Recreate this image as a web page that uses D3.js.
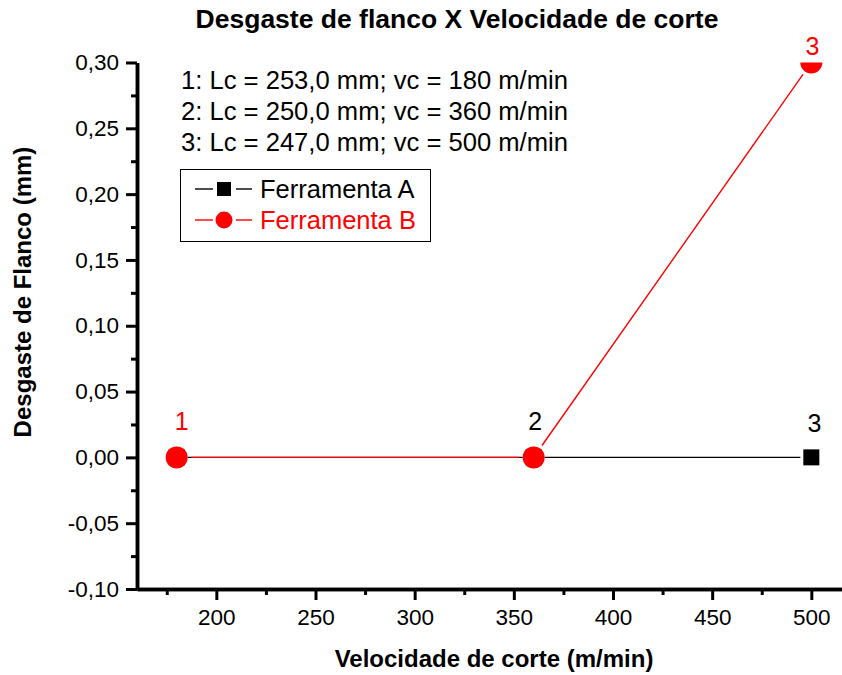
<!DOCTYPE html>
<html>
<head>
<meta charset="utf-8">
<script src="https://cdn.jsdelivr.net/npm/d3@7"></script>
<style>
  html, body { margin: 0; padding: 0; background: #fff; }
  svg { display: block; font-family: "Liberation Sans", Arial, sans-serif; }
</style>
</head>
<body>
<svg id="chart" width="842" height="675"></svg>
<script>
// Cutting speed (m/min) for each test point
const speeds = [180, 360, 500];
// Flank wear (mm) per tool
const wearA = [0.0, 0.0, 0.0];
const wearB = [0.0, 0.0, 0.30];
// Point labels
const pointLabels = ["1", "2", "3"];
// Test conditions
const conditions = [
  "1: Lc = 253,0 mm; vc = 180 m/min",
  "2: Lc = 250,0 mm; vc = 360 m/min",
  "3: Lc = 247,0 mm; vc = 500 m/min"
];
const seriesNames = ["Ferramenta A", "Ferramenta B"];
const xTicks = [200, 250, 300, 350, 400, 450, 500];
const yTicks = [-0.10, -0.05, 0.00, 0.05, 0.10, 0.15, 0.20, 0.25, 0.30];

const svg = d3.select("#chart");
const x = d3.scaleLinear().domain([160, 520]).range([137, 851]);
const y = d3.scaleLinear().domain([-0.10, 0.30]).range([589, 62.5]);
const fmt = v => d3.format(".2f")(v).replace(".", ",").replace("−", "-");
const RED = "#ff0000";

// Title
svg.append("text").attr("x", 457).attr("y", 28).attr("text-anchor", "middle")
  .attr("font-size", 26.5).attr("font-weight", "bold").text("Desgaste de flanco X Velocidade de corte");

// Axes
const x0 = x.range()[0], y0 = y.range()[0];
const xAxis = svg.append("g").attr("transform", `translate(0,${y0})`)
  .call(d3.axisBottom(x).tickValues(xTicks).tickSize(11).tickSizeOuter(0).tickFormat(d3.format("d")));
const xMinor = svg.append("g").attr("transform", `translate(0,${y0})`)
  .call(d3.axisBottom(x).tickValues(xTicks.map(v => v - 25).concat([525])).tickSize(6).tickSizeOuter(0).tickFormat(""));
const yAxis = svg.append("g").attr("transform", `translate(${x0},0)`)
  .call(d3.axisLeft(y).tickValues(yTicks).tickSize(11).tickSizeOuter(0).tickFormat(fmt));
const yMinor = svg.append("g").attr("transform", `translate(${x0},0)`)
  .call(d3.axisLeft(y).tickValues(yTicks.slice(0, -1).map(v => v + 0.025)).tickSize(6).tickSizeOuter(0).tickFormat(""));

[xAxis, xMinor, yAxis, yMinor].forEach(g => {
  g.selectAll("path.domain").attr("stroke", "#000").attr("stroke-width", 3.5);
  g.selectAll(".tick line").attr("stroke", "#000").attr("stroke-width", 3);
  g.selectAll(".tick text").attr("font-size", 22.5).attr("fill", "#000")
    .attr("font-family", "'Liberation Sans', Arial, sans-serif");
});
xAxis.selectAll(".tick text").attr("y", 36).attr("dy", 0);
yAxis.selectAll(".tick text").attr("x", -18).attr("dy", "0.32em");

// Axis titles
svg.append("text").attr("x", 494).attr("y", 667).attr("text-anchor", "middle")
  .attr("font-size", 24).attr("font-weight", "bold").text("Velocidade de corte (m/min)");
svg.append("text").attr("transform", "translate(31,292) rotate(-90)").attr("text-anchor", "middle")
  .attr("font-size", 24).attr("font-weight", "bold").text("Desgaste de Flanco (mm)");

// Clip region for the plotting area
svg.append("clipPath").attr("id", "plot-clip").append("rect")
  .attr("x", x0).attr("y", 62.5).attr("width", 842 - x0).attr("height", y0 - 62.5);
const plot = svg.append("g").attr("clip-path", "url(#plot-clip)");

const dataA = speeds.map((s, i) => [s, wearA[i]]);
const dataB = speeds.map((s, i) => [s, wearB[i]]);

// Connecting lines, broken by a small gap around each marker
const line = d3.line();
function gapSegments(data, gap) {
  const pts = data.map(d => [x(d[0]), y(d[1])]);
  const segs = [];
  for (let i = 0; i < pts.length - 1; i++) {
    const [ax, ay] = pts[i], [bx, by] = pts[i + 1];
    const len = Math.hypot(bx - ax, by - ay);
    if (len <= 2 * gap) continue;
    const ux = (bx - ax) / len, uy = (by - ay) / len;
    segs.push([[ax + ux * gap, ay + uy * gap], [bx - ux * gap, by - uy * gap]]);
  }
  return segs;
}
plot.selectAll("path.la").data(gapSegments(dataA, 11)).join("path").attr("class", "la")
  .attr("d", line).attr("fill", "none").attr("stroke", "#000").attr("stroke-width", 1.4);
plot.selectAll("path.lb").data(gapSegments(dataB, 14.5)).join("path").attr("class", "lb")
  .attr("d", line).attr("fill", "none").attr("stroke", RED).attr("stroke-width", 1.4);

// Markers
plot.selectAll("rect.a").data(dataA).join("rect").attr("class", "a")
  .attr("x", d => x(d[0]) - 8).attr("y", d => y(d[1]) - 8)
  .attr("width", 16).attr("height", 16).attr("fill", "#000");
plot.selectAll("circle.b").data(dataB).join("circle").attr("class", "b")
  .attr("cx", d => x(d[0])).attr("cy", d => y(d[1])).attr("r", 11).attr("fill", RED);

// Point labels
const labelSpecs = [
  { p: dataB[0], idx: 0, c: RED, dx: 5, dy: -27 },
  { p: dataB[1], idx: 1, c: "#000", dx: 1.5, dy: -27 },
  { p: dataA[2], idx: 2, c: "#000", dx: 3, dy: -25 },
  { p: dataB[2], idx: 2, c: RED, dx: 1, dy: -8 }
];
svg.selectAll("text.pt").data(labelSpecs).join("text").attr("class", "pt")
  .attr("x", d => x(d.p[0]) + d.dx).attr("y", d => y(d.p[1]) + d.dy)
  .attr("text-anchor", "middle").attr("font-size", 25).attr("fill", d => d.c)
  .text(d => pointLabels[d.idx]);

// Test conditions text
svg.selectAll("text.cond").data(conditions).join("text").attr("class", "cond")
  .attr("x", 181).attr("y", (d, i) => 89 + i * 31)
  .attr("font-size", 25.6).attr("fill", "#000").text(d => d);

// Legend
const lg = svg.append("g");
lg.append("rect").attr("x", 180.5).attr("y", 169.5).attr("width", 250).attr("height", 72)
  .attr("fill", "#fff").attr("stroke", "#000").attr("stroke-width", 1);
const colors = ["#000", RED];
seriesNames.forEach((name, i) => {
  const cy = 189 + i * 31;
  lg.append("line").attr("x1", 195).attr("x2", 213).attr("y1", cy).attr("y2", cy)
    .attr("stroke", colors[i]).attr("stroke-width", 1.4);
  lg.append("line").attr("x1", 236).attr("x2", 252).attr("y1", cy).attr("y2", cy)
    .attr("stroke", colors[i]).attr("stroke-width", 1.4);
  if (i === 0) {
    lg.append("rect").attr("x", 217).attr("y", cy - 7).attr("width", 14).attr("height", 14).attr("fill", "#000");
  } else {
    lg.append("circle").attr("cx", 224).attr("cy", cy).attr("r", 8.5).attr("fill", RED);
  }
  lg.append("text").attr("x", 260).attr("y", cy + 9).attr("font-size", 25.5)
    .attr("fill", colors[i]).text(name);
});
</script>
</body>
</html>
